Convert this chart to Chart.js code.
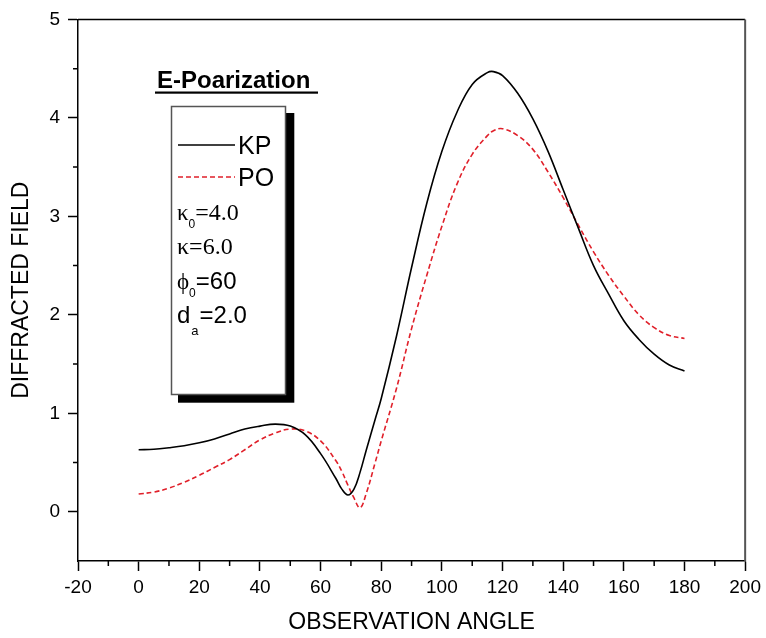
<!DOCTYPE html>
<html lang="en">
<head>
  <meta charset="UTF-8">
  <title>Diffracted field vs observation angle</title>
  <script src="https://cdn.jsdelivr.net/npm/chart.js"></script>
  <style>
    html, body { margin: 0; padding: 0; background: #fff; }
  </style>
</head>
<body>
  <canvas id="chartCanvas" width="766" height="638"></canvas>

  <script>
    const angles = [0, 5, 10, 15, 20, 25, 30, 35, 40, 45, 50, 55, 60, 65, 67, 69, 71, 73, 75, 78,
                    80, 85, 90, 95, 100, 105, 110, 115, 117, 120, 125, 130, 135, 140, 145, 150, 155,
                    160, 165, 170, 175, 180];
    const kpField = [0.63, 0.635, 0.65, 0.67, 0.70, 0.74, 0.79, 0.84, 0.87, 0.89, 0.87, 0.78, 0.59,
                     0.34, 0.23, 0.17, 0.23, 0.40, 0.62, 0.94, 1.15, 1.78, 2.48, 3.13, 3.66, 4.06,
                     4.34, 4.46, 4.47, 4.43, 4.25, 3.99, 3.66, 3.27, 2.88, 2.50, 2.21, 1.94, 1.75,
                     1.60, 1.49, 1.43];
    const poField = [0.18, 0.20, 0.24, 0.30, 0.37, 0.45, 0.53, 0.63, 0.73, 0.80, 0.84, 0.82, 0.72,
                     0.52, 0.41, 0.27, 0.14, 0.04, 0.18, 0.50, 0.72, 1.25, 1.86, 2.40, 2.90, 3.33,
                     3.63, 3.82, 3.87, 3.89, 3.82, 3.68, 3.45, 3.19, 2.91, 2.64, 2.40, 2.19, 2.00,
                     1.87, 1.79, 1.76];
    const xTicks = [-20, 0, 20, 40, 60, 80, 100, 120, 140, 160, 180, 200];
    const yTicks = [0, 1, 2, 3, 4, 5];

    const SANS = "'Liberation Sans', Arial, sans-serif";
    const SERIF = "'Liberation Serif', 'DejaVu Serif', 'Times New Roman', serif";
    const RED = '#e0202a';

    Chart.defaults.font.family = SANS;
    Chart.defaults.color = '#000';

    function drawRow(ctx, x, y, parts) {
      parts.forEach(p => {
        ctx.font = p.font;
        ctx.fillText(p.text, x, y + (p.dy || 0));
        x += ctx.measureText(p.text).width + (p.gap || 0);
      });
    }

    // outer frame, minor ticks and the boxed legend
    const decorations = {
      id: 'decorations',
      afterDraw(chart) {
        const ctx = chart.ctx;
        const { left, top, right, bottom } = chart.chartArea;
        const xs = chart.scales.x, ys = chart.scales.y;
        ctx.save();

        ctx.strokeStyle = '#000';
        ctx.lineWidth = 1.5;
        ctx.beginPath();
        ctx.moveTo(left, top);
        ctx.lineTo(right, top);
        ctx.stroke();
        ctx.strokeStyle = '#555';
        ctx.lineWidth = 2;
        ctx.beginPath();
        ctx.moveTo(right, top);
        ctx.lineTo(right, bottom);
        ctx.stroke();

        // minor ticks halfway between the major ones
        ctx.strokeStyle = '#000';
        ctx.lineWidth = 1.5;
        ctx.beginPath();
        for (let i = 0; i < xTicks.length - 1; i++) {
          const px = xs.getPixelForValue((xTicks[i] + xTicks[i + 1]) / 2);
          ctx.moveTo(px, bottom);
          ctx.lineTo(px, bottom + 5);
        }
        for (let i = 0; i < yTicks.length - 1; i++) {
          const py = ys.getPixelForValue((yTicks[i] + yTicks[i + 1]) / 2);
          ctx.moveTo(left, py);
          ctx.lineTo(left - 5, py);
        }
        ctx.stroke();

        // title over the legend box
        ctx.fillStyle = '#000';
        ctx.font = 'bold 24px ' + SANS;
        ctx.textBaseline = 'alphabetic';
        ctx.fillText('E-Poarization', 157, 88);
        ctx.fillRect(155, 91.5, 163, 2.2);

        // legend box with its drop shadow
        ctx.fillRect(178, 113, 116.3, 289.7);
        ctx.fillStyle = '#fff';
        ctx.fillRect(171.5, 106.5, 114, 288);
        ctx.strokeStyle = '#555';
        ctx.lineWidth = 1.5;
        ctx.strokeRect(171.5, 106.5, 114, 288);

        ctx.strokeStyle = '#000';
        ctx.lineWidth = 1.5;
        ctx.beginPath();
        ctx.moveTo(178, 145);
        ctx.lineTo(235, 145);
        ctx.stroke();
        ctx.strokeStyle = RED;
        ctx.setLineDash([5, 3]);
        ctx.beginPath();
        ctx.moveTo(178, 177);
        ctx.lineTo(235, 177);
        ctx.stroke();
        ctx.setLineDash([]);

        ctx.fillStyle = '#000';
        ctx.font = '25px ' + SANS;
        ctx.fillText('KP', 238, 154);
        ctx.fillText('PO', 238, 186);

        drawRow(ctx, 177, 220, [
          { text: 'κ', font: '23px ' + SERIF },
          { text: '0', font: '12px ' + SANS, dy: 8 },
          { text: '=4.0', font: '24px ' + SERIF }
        ]);
        drawRow(ctx, 177, 254, [
          { text: 'κ=6.0', font: '24px ' + SERIF }
        ]);
        drawRow(ctx, 177, 289, [
          { text: 'ϕ', font: '23px ' + SERIF },
          { text: '0', font: '12px ' + SANS, dy: 8 },
          { text: '=60', font: '24px ' + SANS }
        ]);
        drawRow(ctx, 177, 323, [
          { text: 'd', font: '24px ' + SANS, gap: 1 },
          { text: 'a', font: '13px ' + SANS, dy: 12, gap: 1 },
          { text: '=2.0', font: '24px ' + SANS }
        ]);

        ctx.restore();
      }
    };

    const ctx = document.getElementById('chartCanvas').getContext('2d');
    new Chart(ctx, {
      type: 'line',
      data: {
        datasets: [
          {
            label: 'KP',
            data: angles.map((a, i) => ({ x: a, y: kpField[i] })),
            borderColor: '#000',
            borderWidth: 1.6,
            pointRadius: 0,
            tension: 0.4
          },
          {
            label: 'PO',
            data: angles.map((a, i) => ({ x: a, y: poField[i] })),
            borderColor: RED,
            borderWidth: 1.6,
            borderDash: [5, 3],
            pointRadius: 0,
            tension: 0.4
          }
        ]
      },
      options: {
        responsive: false,
        animation: false,
        devicePixelRatio: 1,
        layout: { padding: { top: 16, right: 18, left: 0, bottom: 0 } },
        plugins: { legend: { display: false }, tooltip: { enabled: false } },
        scales: {
          x: {
            type: 'linear',
            min: -20,
            max: 200,
            afterBuildTicks: s => { s.ticks = xTicks.map(v => ({ value: v })); },
            afterFit: s => { s.height = 77; },
            grid: { drawOnChartArea: false, drawTicks: true, tickLength: 10, tickColor: '#000', tickWidth: 1.5 },
            border: { color: '#000', width: 1.5 },
            ticks: { font: { size: 19 }, padding: 5, maxRotation: 0 },
            title: { display: true, text: 'OBSERVATION ANGLE', font: { size: 23 }, padding: { top: 0, bottom: 2 } }
          },
          y: {
            min: -0.5,
            max: 5,
            afterBuildTicks: s => { s.ticks = yTicks.map(v => ({ value: v })); },
            afterFit: s => { s.width = 78; },
            grid: { drawOnChartArea: false, drawTicks: true, tickLength: 10, tickColor: '#000', tickWidth: 1.5 },
            border: { color: '#000', width: 1.5 },
            ticks: { font: { size: 19 }, padding: 8 },
            title: { display: true, text: 'DIFFRACTED FIELD', font: { size: 23 }, padding: { top: 8, bottom: 0 } }
          }
        }
      },
      plugins: [decorations]
    });
  </script>
</body>
</html>
